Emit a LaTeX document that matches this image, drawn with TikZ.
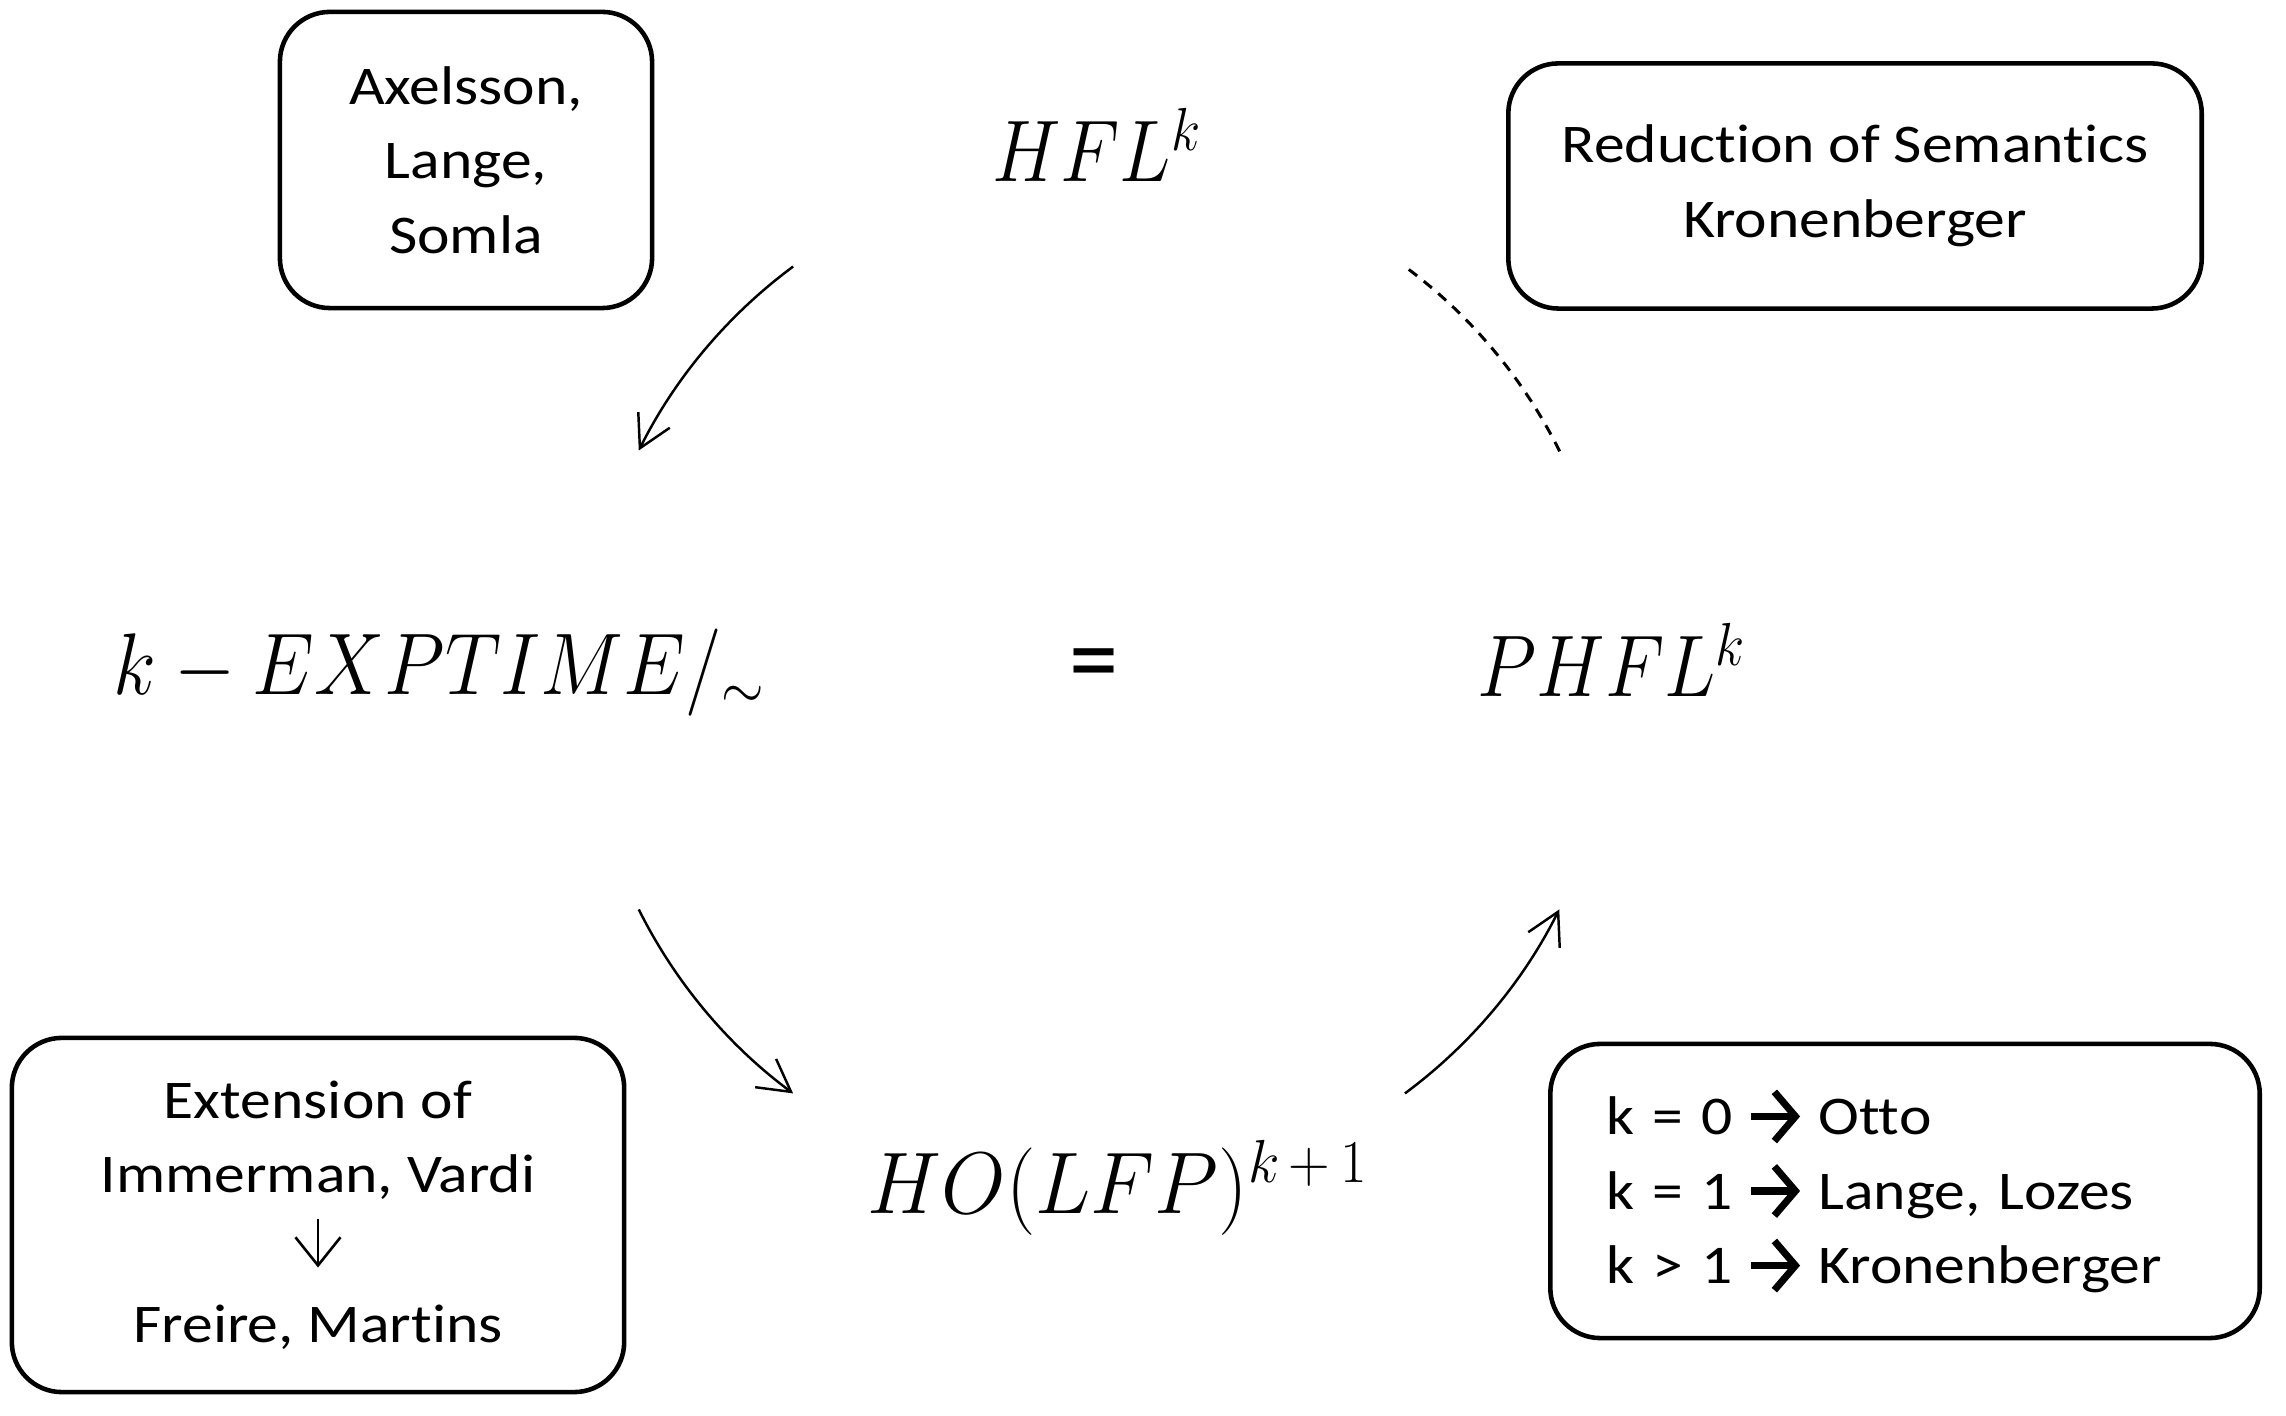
\documentclass[tikz,border=0pt]{standalone}
\usepackage{fontspec}
\setmainfont{Carlito}[Ligatures=NoCommon, FakeStretch=1.13]
\usetikzlibrary{arrows.meta}
\newcommand\rarr{\hspace{4.2pt}\tikz[baseline=0pt]\draw[line width=2pt,-{Straight Barb[length=6pt,width=14pt,line width=2pt]}] (0,5.2pt)--(14pt,5.2pt);\hspace{4.2pt}}
\newcommand\darr{\tikz[baseline=0pt]\draw[line width=0.75pt,-{Straight Barb[length=8pt,width=12.8pt,line width=0.75pt]}] (0,13.7pt)--(0,0pt);}
\begin{document}
\frenchspacing
\begin{tikzpicture}[x=0.01cm,y=0.01cm,
  box/.style={draw, line width=1.3pt, rounded corners=0.5cm, font=\fontsize{15.5}{21.2}\selectfont, align=center, inner sep=0pt},
  mth/.style={font=\fontsize{25}{30}\selectfont, inner sep=0pt},
  arr/.style={line width=0.7pt, -{Straight Barb[length=9pt,width=10pt,line width=0.7pt]}},
  dsh/.style={line width=0.85pt, dash pattern=on 3pt off 2.4pt}]
\useasboundingbox (0,0) rectangle (2286,1416);
% boxes
\node[box, minimum width=3.72cm, minimum height=2.96cm] (axel) at (466,1256) {Axelsson,\\Lange,\\Somla};
\node[box, minimum width=6.93cm, minimum height=2.45cm] (red) at (1855,1230) {Reduction of Semantics\\Kronenberger};
\node[box, minimum width=6.12cm, minimum height=3.54cm] (ext) at (318,201) {Extension of\\Immerman, Vardi\\\darr\\Freire, Martins};
\node[box, minimum width=7.09cm, minimum height=2.94cm, align=left, text width=5.97cm] (kbox) at (1905,225)
  {k = 0\rarr Otto\\k = 1\rarr Lange, Lozes\\k > 1\rarr Kronenberger};
% math labels
\node[mth, anchor=base] (hfl) at (1097,1234) {\scalebox{0.88}[1]{$HFL^k$}};
\node[mth, anchor=base] (exp) at (440,721) {\scalebox{0.9}[1]{$k - EXPTIME/_{\sim}$}};
\node[mth] (eq) at (1094,744) {\fontsize{31}{36}\selectfont\scalebox{0.8}[1]{=}};
\node[mth, anchor=base] (phfl) at (1612,719) {\scalebox{0.88}[1]{$PHFL^k$}};
\node[mth, anchor=base] (ho) at (1118,202) {\scalebox{0.95}[1]{$HO(LFP)^{k\mskip3mu+\mskip3mu1}$}};
% circle arcs
\coordinate (O) at (1099,736);
\coordinate (a1s) at ([shift={(126.5:5.14cm)}]O);
\coordinate (a2s) at ([shift={(206.5:5.14cm)}]O);
\coordinate (a3s) at ([shift={(306.5:5.14cm)}]O);
\coordinate (a4s) at ([shift={(26.4:5.14cm)}]O);
\draw[arr] (a1s) arc[start angle=126.5, end angle=153.5, radius=5.14cm];
\draw[arr] (a2s) arc[start angle=206.5, end angle=233.5, radius=5.14cm];
\draw[arr] (a3s) arc[start angle=306.5, end angle=333.5, radius=5.14cm];
\draw[dsh] (a4s) arc[start angle=26.4, end angle=53.3, radius=5.14cm];
\end{tikzpicture}
\end{document}
